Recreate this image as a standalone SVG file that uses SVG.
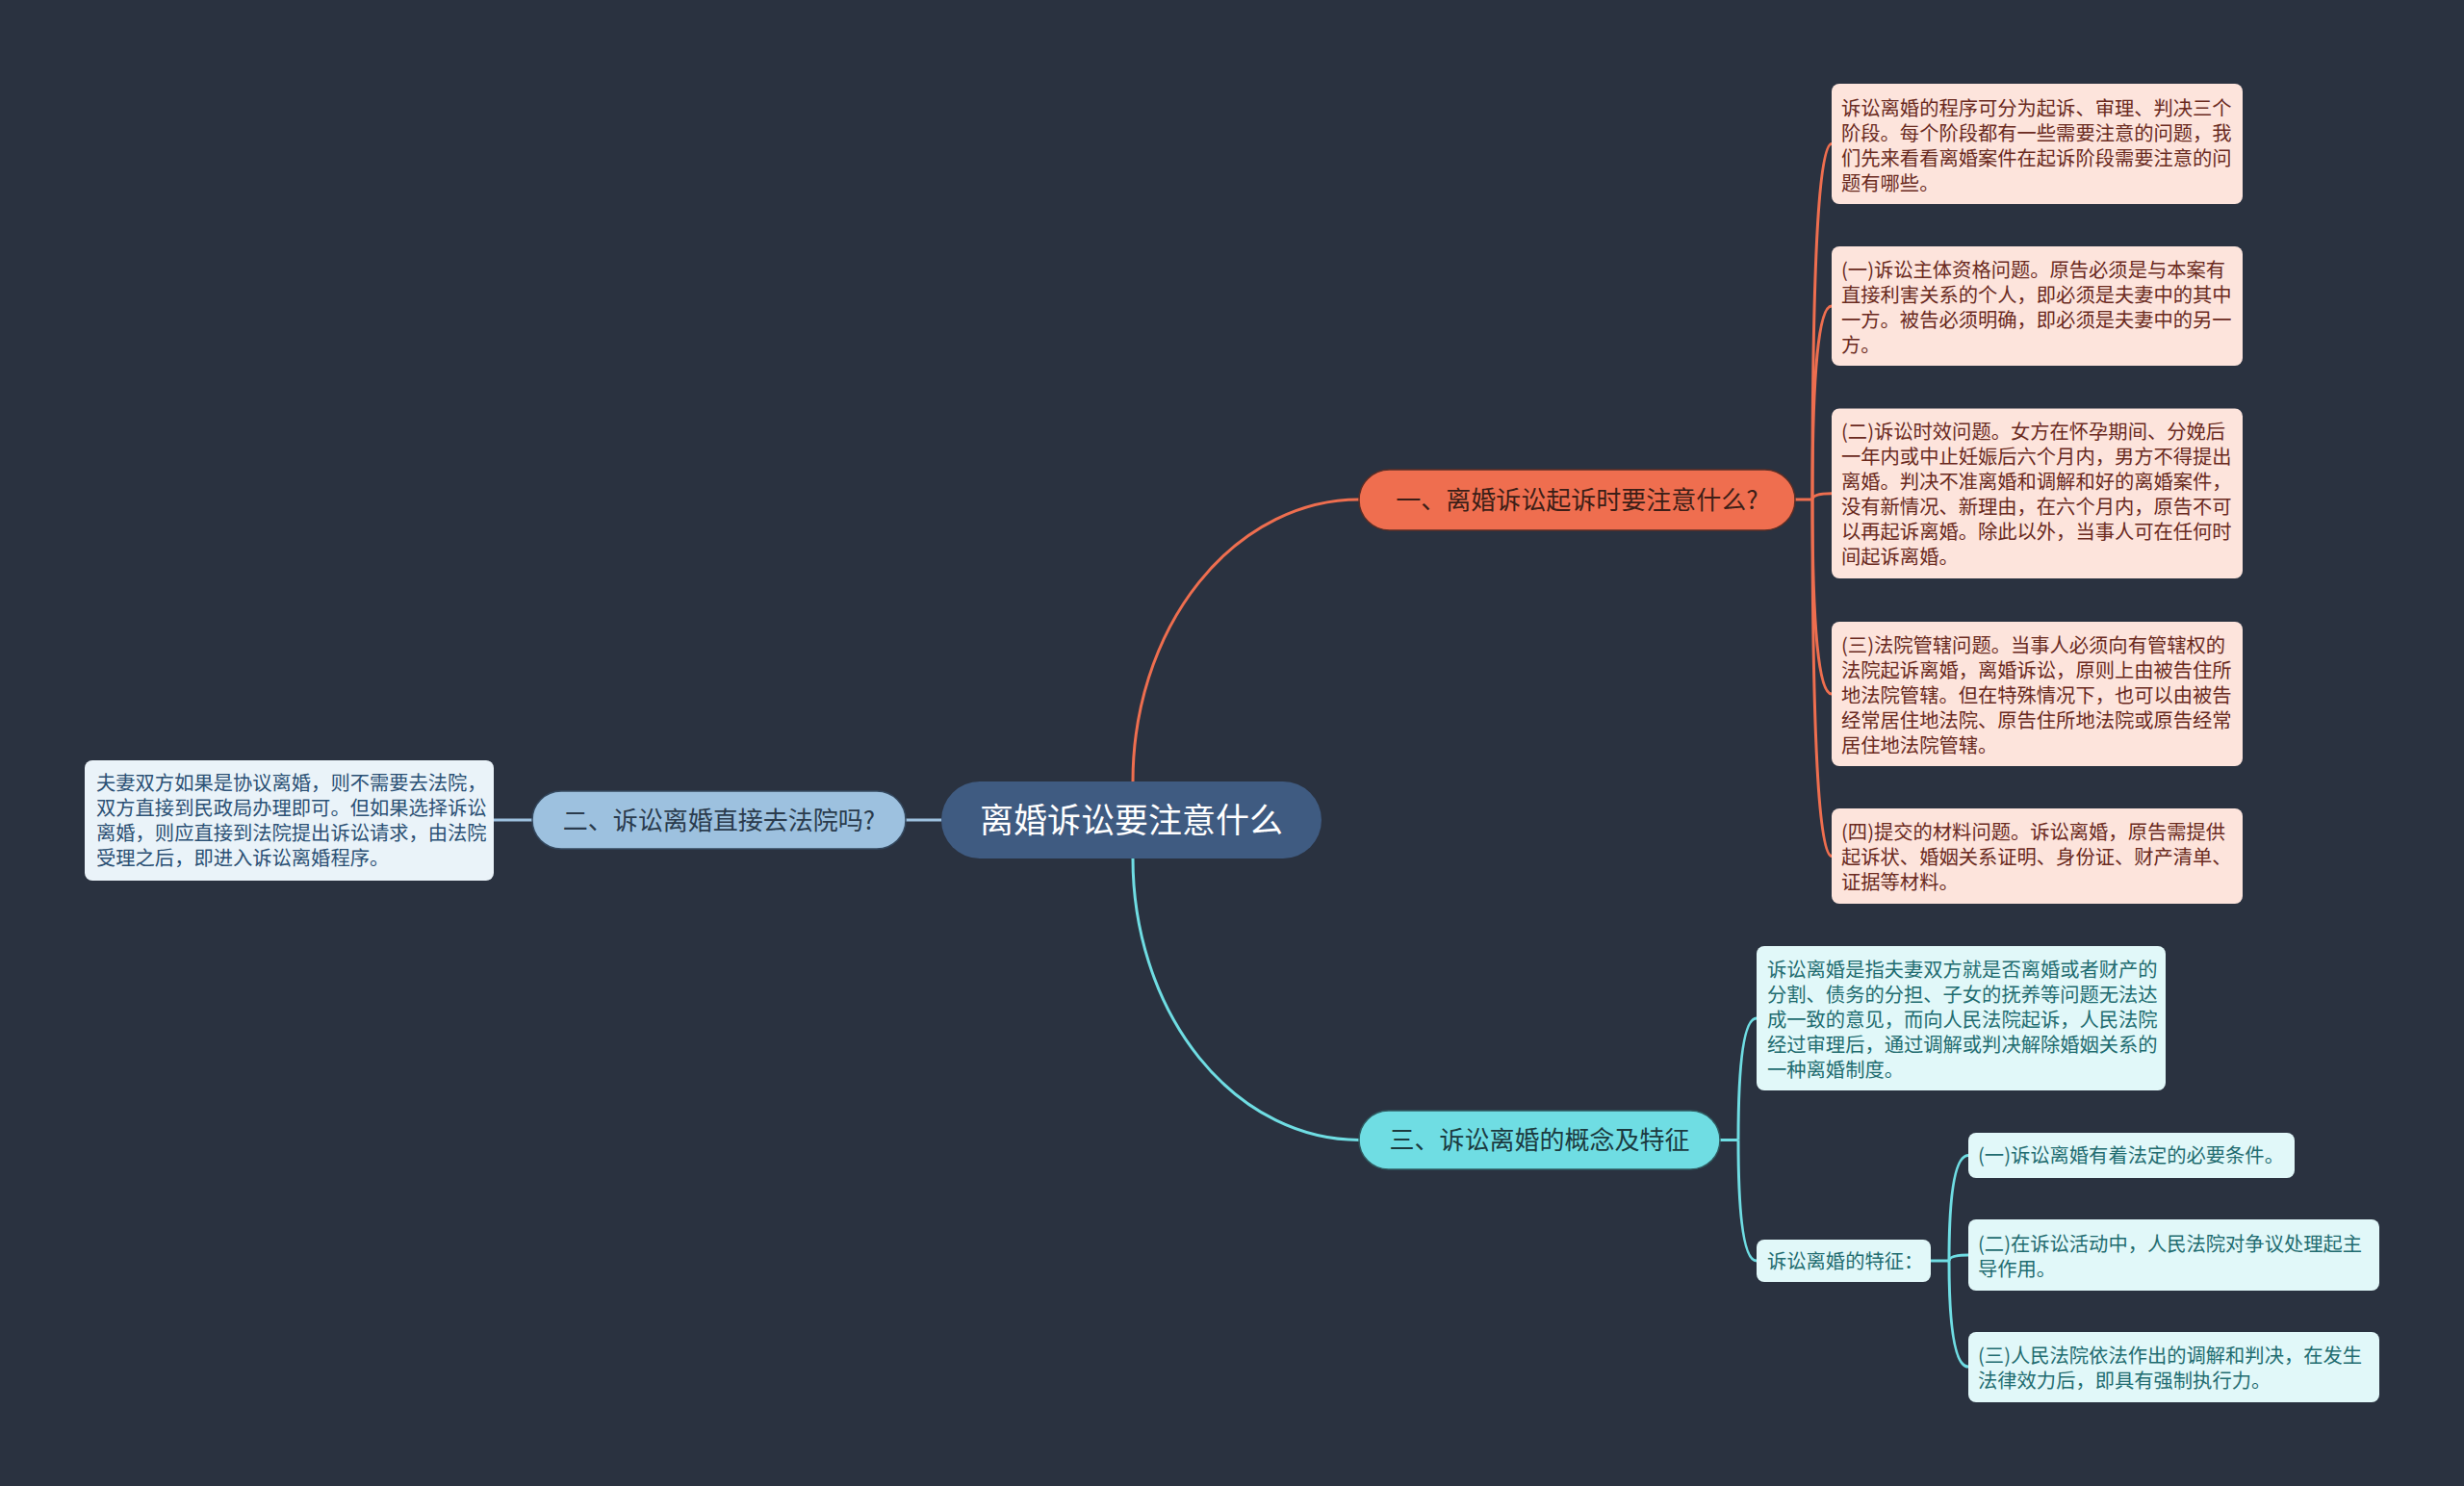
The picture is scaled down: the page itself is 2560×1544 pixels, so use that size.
<svg xmlns="http://www.w3.org/2000/svg" width="2560" height="1544" viewBox="0 0 2560 1544">
<defs>
<style>
text{font-family:"Noto Sans CJK SC","Noto Sans",sans-serif;}
.c1{fill:none;stroke:#ee6e4f;stroke-width:3;}
.c2{fill:none;stroke:#9dc1df;stroke-width:3;}
.c3{fill:none;stroke:#6fdde3;stroke-width:3;}
.root rect{fill:#3f5b81;}
.root text{fill:#ffffff;font-size:35px;text-anchor:middle;}
.b1 rect{fill:#ef6e4f;stroke:#5a2e26;stroke-width:1.5;}
.b1 text{fill:#3c1e17;font-size:26px;text-anchor:middle;}
.b2 rect{fill:#9dc1df;stroke:#34485e;stroke-width:1.5;}
.b2 text{fill:#2a3b4d;font-size:26px;text-anchor:middle;}
.b3 rect{fill:#6fdde3;stroke:#2f5a60;stroke-width:1.5;}
.b3 text{fill:#1b3a3f;font-size:26px;text-anchor:middle;}
.l1 rect{fill:#fde4dc;}
.l1 text{fill:#6a2a1e;font-size:20.3px;}
.l2 rect{fill:#eaf3f9;}
.l2 text{fill:#2b5074;font-size:20.3px;}
.l3 rect{fill:#e1f8f9;}
.l3 text{fill:#1f6c70;font-size:20.3px;}
</style>
</defs>
<rect x="0" y="0" width="2560" height="1544" fill="#2a3240"/>

<g id="connectors">
<path class="c1" d="M1177,812 A235,293 0 0 1 1412,519"/>
<path class="c3" d="M1177,892 A235,292.5 0 0 0 1412,1184.5"/>
<path class="c2" d="M978,852 H941"/>
<path class="c2" d="M553,852 H513"/>
<path class="c1" d="M1865,519 H1883"/>
<path class="c1" d="M1883,519 Q1883,149.5 1903,149.5"/>
<path class="c1" d="M1883,519 Q1883,318 1903,318"/>
<path class="c1" d="M1883,519 Q1883,512.7 1903,512.7"/>
<path class="c1" d="M1883,519 Q1883,721 1903,721"/>
<path class="c1" d="M1883,519 Q1883,889.5 1903,889.5"/>
<path class="c3" d="M1787,1184.5 H1806"/>
<path class="c3" d="M1806,1184.5 Q1806,1058 1825,1058"/>
<path class="c3" d="M1806,1184.5 Q1806,1310 1825,1310"/>
<path class="c3" d="M2006,1310 H2025"/>
<path class="c3" d="M2025,1310 Q2025,1200.5 2045,1200.5"/>
<path class="c3" d="M2025,1310 Q2025,1304 2045,1304"/>
<path class="c3" d="M2025,1310 Q2025,1420 2045,1420"/>
</g>

<g id="root" class="root">
<rect x="978" y="812" width="395" height="80" rx="40"/>
<text x="1175.5" y="864.6">离婚诉讼要注意什么</text>
</g>

<g id="branch1" class="b1">
<rect x="1412" y="488" width="453" height="63" rx="31.5"/>
<text x="1638.5" y="529">一、离婚诉讼起诉时要注意什么?</text>
</g>

<g id="branch2" class="b2">
<rect x="553" y="822" width="388" height="60" rx="30"/>
<text x="747" y="861.5">二、诉讼离婚直接去法院吗?</text>
</g>

<g id="branch3" class="b3">
<rect x="1412" y="1154" width="375" height="61" rx="30.5"/>
<text x="1599.5" y="1194">三、诉讼离婚的概念及特征</text>
</g>

<g id="b1c1" class="l1">
<rect x="1903" y="87" width="427" height="125" rx="8"/>
<text x="1913" y="119.5">诉讼离婚的程序可分为起诉、审理、判决三个</text>
<text x="1913" y="145.5">阶段。每个阶段都有一些需要注意的问题，我</text>
<text x="1913" y="171.5">们先来看看离婚案件在起诉阶段需要注意的问</text>
<text x="1913" y="197.5">题有哪些。</text>
</g>

<g id="b1c2" class="l1">
<rect x="1903" y="256" width="427" height="124" rx="8"/>
<text x="1913" y="288">(一)诉讼主体资格问题。原告必须是与本案有</text>
<text x="1913" y="314">直接利害关系的个人，即必须是夫妻中的其中</text>
<text x="1913" y="340">一方。被告必须明确，即必须是夫妻中的另一</text>
<text x="1913" y="366">方。</text>
</g>

<g id="b1c3" class="l1">
<rect x="1903" y="424.5" width="427" height="176.5" rx="8"/>
<text x="1913" y="455.5">(二)诉讼时效问题。女方在怀孕期间、分娩后</text>
<text x="1913" y="481.5">一年内或中止妊娠后六个月内，男方不得提出</text>
<text x="1913" y="507.5">离婚。判决不准离婚和调解和好的离婚案件，</text>
<text x="1913" y="533.5">没有新情况、新理由，在六个月内，原告不可</text>
<text x="1913" y="559.5">以再起诉离婚。除此以外，当事人可在任何时</text>
<text x="1913" y="585.5">间起诉离婚。</text>
</g>

<g id="b1c4" class="l1">
<rect x="1903" y="646" width="427" height="150" rx="8"/>
<text x="1913" y="677.5">(三)法院管辖问题。当事人必须向有管辖权的</text>
<text x="1913" y="703.5">法院起诉离婚，离婚诉讼，原则上由被告住所</text>
<text x="1913" y="729.5">地法院管辖。但在特殊情况下，也可以由被告</text>
<text x="1913" y="755.5">经常居住地法院、原告住所地法院或原告经常</text>
<text x="1913" y="781.5">居住地法院管辖。</text>
</g>

<g id="b1c5" class="l1">
<rect x="1903" y="840" width="427" height="99" rx="8"/>
<text x="1913" y="872">(四)提交的材料问题。诉讼离婚，原告需提供</text>
<text x="1913" y="898">起诉状、婚姻关系证明、身份证、财产清单、</text>
<text x="1913" y="924">证据等材料。</text>
</g>

<g id="b2c1" class="l2">
<rect x="88" y="790" width="425" height="125" rx="8"/>
<text x="100" y="820.5">夫妻双方如果是协议离婚，则不需要去法院，</text>
<text x="100" y="846.5">双方直接到民政局办理即可。但如果选择诉讼</text>
<text x="100" y="872.5">离婚，则应直接到法院提出诉讼请求，由法院</text>
<text x="100" y="898.5">受理之后，即进入诉讼离婚程序。</text>
</g>

<g id="b3c1" class="l3">
<rect x="1825" y="983" width="425" height="150" rx="8"/>
<text x="1836" y="1014.5">诉讼离婚是指夫妻双方就是否离婚或者财产的</text>
<text x="1836" y="1040.5">分割、债务的分担、子女的抚养等问题无法达</text>
<text x="1836" y="1066.5">成一致的意见，而向人民法院起诉，人民法院</text>
<text x="1836" y="1092.5">经过审理后，通过调解或判决解除婚姻关系的</text>
<text x="1836" y="1118.5">一种离婚制度。</text>
</g>

<g id="b3c2" class="l3">
<rect x="1825" y="1288" width="181" height="44" rx="8"/>
<text x="1836" y="1317.5">诉讼离婚的特征：</text>
</g>

<g id="b3g1" class="l3">
<rect x="2045" y="1177" width="339" height="47" rx="8"/>
<text x="2055" y="1208">(一)诉讼离婚有着法定的必要条件。</text>
</g>

<g id="b3g2" class="l3">
<rect x="2045" y="1267" width="427" height="74" rx="8"/>
<text x="2055" y="1299.5">(二)在诉讼活动中，人民法院对争议处理起主</text>
<text x="2055" y="1325.5">导作用。</text>
</g>

<g id="b3g3" class="l3">
<rect x="2045" y="1384" width="427" height="73" rx="8"/>
<text x="2055" y="1415.5">(三)人民法院依法作出的调解和判决，在发生</text>
<text x="2055" y="1441.5">法律效力后，即具有强制执行力。</text>
</g>
</svg>
